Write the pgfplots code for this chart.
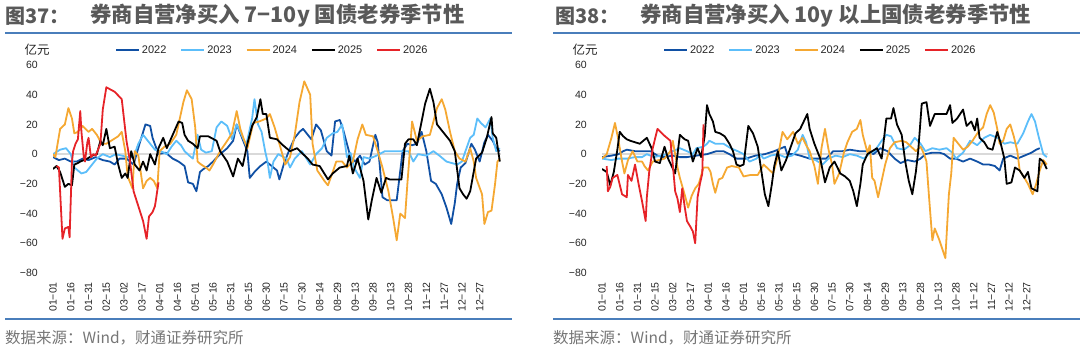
\documentclass[border=0pt]{standalone}
\usepackage{fontspec}
\usepackage{pgfplots}
\pgfplotsset{compat=1.18}
\setmainfont{Liberation Sans}
\newfontfamily\cjk{Noto Sans CJK SC}
\definecolor{cA}{RGB}{16,80,164}
\definecolor{cB}{RGB}{92,190,250}
\definecolor{cC}{RGB}{245,168,50}
\definecolor{cD}{RGB}{0,0,0}
\definecolor{cE}{RGB}{230,35,40}
\definecolor{zerogray}{RGB}{217,217,217}
\definecolor{rule}{RGB}{74,126,187}
\definecolor{ttl}{RGB}{89,89,89}
\definecolor{src}{RGB}{118,118,118}
\pgfplotsset{
  panel/.style={
    scale only axis, height=208pt,
    xmin=0, xmax=378, ymin=-80, ymax=60,
    axis line style={draw=none}, tick style={draw=none}, major tick length=0pt,
    xtick={0,15,...,360},
    xticklabels={01−01,01−16,01−31,02−15,03−02,03−17,04−01,04−16,05−01,05−16,05−31,06−15,06−30,07−15,07−30,08−14,08−29,09−13,09−28,10−13,10−28,11−12,11−27,12−12,12−27},
    ytick={-80,-60,-40,-20,0,20,40,60},
    yticklabels={−80,−60,−40,−20,0,20,40,60},
    tick label style={font=\fontsize{10.5}{10.5}\selectfont, color=black!85, inner sep=0pt},
    xticklabel style={yshift=-9pt, rotate=90, anchor=east},
    yticklabel style={xshift=-15pt, anchor=east},
    legend columns=5,
    legend style={at={(0,1)}, anchor=west, yshift=15pt, draw=none, fill=none, inner sep=0pt,
      font=\fontsize{11}{11}\selectfont, text=black!85,
      /tikz/every even column/.append style={column sep=12pt}},
    legend image code/.code={\draw[#1] (0pt,0pt) -- (23pt,0pt);},
    every axis plot/.append style={line width=1.8pt, line join=round},
  }
}
\begin{document}
\begin{tikzpicture}[x=1pt,y=1pt]
\useasboundingbox (0,0) rectangle (1080,-354);
% ---------- left panel ----------
\node[anchor=west, text=ttl, font=\cjk\bfseries\fontsize{20}{20}\selectfont, inner sep=0pt] at (5,-16) {图37：};
\node[anchor=west, text=ttl, font=\cjk\bfseries\fontsize{21.4}{21.4}\selectfont, inner sep=0pt] at (90,-16) {券商自营净买入 7−10y 国债老券季节性};
\draw[rule, line width=1.5pt] (5,-33) -- (512,-33);
\draw[rule, line width=1.5pt] (5,-319) -- (512,-319);
\node[anchor=west, text=src, font=\cjk\fontsize{15.5}{15.5}\selectfont, inner sep=0pt] at (5,-338) {数据来源：Wind，财通证券研究所};
\node[font=\cjk\fontsize{12.5}{12.5}\selectfont, text=black!85, inner sep=0pt] at (37,-50) {亿元};
\begin{axis}[panel, width=448pt, at={(53pt,-273pt)}, anchor=south west, legend style={xshift=62pt}]
\draw[zerogray, line width=2pt] (axis cs:0,0) -- (axis cs:378,0);
\addplot[cA] coordinates {(0,-2) (5,-4) (10,-3) (15,-5) (20,-5) (25,-3) (30,-4) (36,-2) (42,-4) (48,-5) (52,-7) (56,-3) (62,-3) (68,-7) (73,7) (78,20) (82,19) (84,11) (89,0) (95,1) (101,-3) (106,-5) (111,-8) (114,-19) (118,-20) (121,-25) (124,-12) (127,-10) (131,-8) (135,-5) (141,0) (147,4) (152,9) (155,20) (159,12) (164,2) (166,-16) (170,-12) (175,-8) (180,-5) (183,-7) (189,-11) (191,-17) (195,-6) (200,4) (204,11) (208,15) (211,17) (215,13) (218,10) (222,20) (226,16) (231,2) (235,-1) (238,22) (242,23) (245,16) (248,7) (251,-2) (255,-5) (259,-1) (263,-7) (267,-5) (272,13) (274,8) (278,-29) (282,-31) (290,-31) (295,2) (299,7) (303,6) (307,7) (311,15) (315,2) (319,-18) (323,-20) (328,-27) (332,-36) (336,-47) (339,-33) (341,-20) (344,-9) (348,-6) (353,7) (356,3) (360,-5) (364,8) (367,13) (371,9) (374,4) (377,2)};
\addplot[cB] coordinates {(0,0) (6,3) (11,4) (15,0) (18,-9) (24,-13) (28,-12) (33,-7) (37,-3) (42,0) (48,-2) (53,0) (58,-1) (63,-2) (68,-2) (72,7) (76,13) (80,9) (86,3) (91,2) (96,0) (100,5) (104,9) (108,6) (111,2) (115,-1) (118,-3) (122,13) (125,3) (129,1) (134,2) (138,18) (142,22) (147,19) (151,10) (155,20) (158,15) (163,6) (168,24) (170,37) (173,20) (176,15) (179,2) (181,-5) (183,-16) (186,-5) (190,0) (197,-3) (200,-9) (204,-3) (210,2) (217,-7) (222,0) (227,4) (231,11) (236,14) (240,15) (244,20) (248,-2) (251,1) (254,-9) (259,-16) (262,-2) (267,-3) (273,-1) (280,2) (290,2) (300,2) (304,-5) (308,0) (315,-1) (321,2) (326,-1) (332,-5) (341,-7) (345,-5) (348,2) (352,11) (355,13) (358,24) (361,21) (365,18) (369,24) (371,11) (374,2) (377,4)};
\addplot[cC] coordinates {(0,0) (2,-2) (6,17) (10,20) (13,31) (16,24) (18,14) (21,15) (25,19) (30,15) (33,17) (37,13) (41,7) (45,7) (51,10) (55,12) (58,15) (61,2) (63,-15) (67,-23) (69,2) (72,-1) (76,-23) (79,-18) (82,-16) (85,-18) (88,-23) (90,2) (94,5) (99,7) (104,13) (107,24) (110,35) (113,43) (117,37) (120,18) (122,-5) (125,-7) (129,-9) (132,-11) (135,-7) (141,2) (147,9) (151,14) (155,29) (158,17) (161,10) (164,4) (169,21) (174,22) (180,24) (183,27) (187,18) (191,7) (196,-7) (200,-2) (204,13) (208,35) (212,49) (217,40) (219,7) (223,-11) (229,-18) (232,-21) (236,-12) (239,-5) (244,-5) (248,-9) (253,-5) (257,10) (261,20) (264,13) (270,12) (274,2) (278,-9) (283,-25) (287,-43) (290,-58) (293,-40) (297,-43) (299,-20) (303,22) (307,9) (312,12) (318,13) (321,22) (324,31) (328,37) (331,30) (335,15) (339,2) (343,-3) (348,-5) (352,4) (355,-5) (357,-16) (362,-27) (364,-47) (367,-39) (370,-38) (373,-20) (375,-5) (377,-3)};
\addplot[cD] coordinates {(0,-10) (3,-8) (6,-12) (8,-17) (10,-22) (13,-20) (16,-21) (18,-7) (21,-6) (23,-5) (29,-3) (33,-1) (37,0) (40,9) (42,6) (45,17) (48,4) (52,5) (55,-7) (58,-16) (61,-13) (63,-16) (66,2) (69,-7) (73,-11) (76,-5) (79,-11) (82,0) (86,-7) (89,4) (93,11) (96,4) (101,13) (106,22) (109,21) (111,13) (114,9) (118,7) (122,4) (124,12) (131,12) (138,9) (141,2) (147,-5) (152,-15) (156,-3) (160,-8) (164,7) (168,19) (172,25) (175,37) (177,27) (180,27) (183,11) (189,10) (194,6) (200,2) (206,4) (211,0) (215,-3) (219,-7) (225,-8) (232,-17) (236,-13) (242,-9) (248,-8) (250,-1) (253,-13) (257,-3) (262,-18) (266,-44) (269,-31) (273,-16) (277,-26) (281,-16) (284,-17) (294,-17) (297,7) (300,10) (304,10) (307,6) (311,22) (314,34) (318,44) (321,35) (324,20) (329,15) (335,9) (339,2) (343,-23) (346,-27) (349,-30) (352,-25) (357,-3) (362,1) (366,11) (370,25) (371,14) (374,11) (377,-5)};
\addplot[cE] coordinates {(3,-8) (5,-9) (8,-57) (10,-50) (13,-49) (14,-56) (16,-5) (17,2) (19,7) (21,10) (23,29) (24,15) (26,-2) (27,-5) (29,8) (30,11) (32,-2) (34,0) (36,-1) (38,3) (40,7) (42,30) (45,45) (52,42) (58,37) (62,9) (65,-5) (68,-25) (72,-35) (76,-45) (79,-57) (81,-42) (84,-39) (86,-35) (87,-30) (89,-19)};
\legend{2022,2023,2024,2025,2026}
\end{axis}
% ---------- right panel ----------
\node[anchor=west, text=ttl, font=\cjk\bfseries\fontsize{20}{20}\selectfont, inner sep=0pt] at (555,-16) {图38：};
\node[anchor=west, text=ttl, font=\cjk\bfseries\fontsize{21.4}{21.4}\selectfont, inner sep=0pt] at (640,-16) {券商自营净买入 10y 以上国债老券季节性};
\draw[rule, line width=1.5pt] (553,-33) -- (1080,-33);
\draw[rule, line width=1.5pt] (553,-319) -- (1080,-319);
\node[anchor=west, text=src, font=\cjk\fontsize{15.5}{15.5}\selectfont, inner sep=0pt] at (553,-338) {数据来源：Wind，财通证券研究所};
\node[font=\cjk\fontsize{12.5}{12.5}\selectfont, text=black!85, inner sep=0pt] at (585,-50) {亿元};
\begin{axis}[panel, width=446pt, at={(602pt,-273pt)}, anchor=south west, legend style={xshift=61pt}]
\draw[zerogray, line width=2pt] (axis cs:0,0) -- (axis cs:378,0);
\addplot[cA] coordinates {(0,-2) (8,-1) (14,0) (18,2) (21,3) (28,2) (34,2) (41,2) (47,-1) (52,-2) (60,-1) (66,-2) (72,-2) (80,-1) (89,0) (97,2) (103,2) (108,0) (114,-3) (122,-3) (130,-1) (138,0) (146,2) (155,5) (157,0) (163,0) (168,-1) (176,-3) (182,-3) (190,-3) (196,2) (204,2) (210,3) (218,2) (225,2) (230,0) (236,4) (242,2) (248,-3) (253,-6) (259,-4) (265,-5) (270,-3) (274,0) (280,1) (286,1) (290,0) (295,-3) (300,-3) (306,-5) (312,-3) (318,-5) (323,-7) (328,-7) (333,-8) (337,-11) (340,-3) (346,-1) (352,-3) (358,-1) (364,1) (368,3) (371,4)};
\addplot[cB] coordinates {(0,-3) (8,-4) (14,-3) (21,-3) (28,-2) (34,-2) (38,0) (44,-2) (50,-1) (55,0) (60,2) (66,4) (72,2) (77,0) (80,4) (86,5) (89,7) (91,9) (96,7) (103,7) (109,4) (115,2) (120,0) (125,-5) (131,-3) (134,0) (137,-3) (143,-1) (149,0) (155,-2) (161,-1) (166,3) (170,13) (173,8) (176,-3) (181,-4) (187,-7) (192,-3) (198,-1) (204,-2) (210,0) (216,-1) (222,-3) (226,0) (231,2) (237,9) (241,13) (245,12) (250,4) (256,3) (261,6) (265,11) (270,7) (274,2) (280,4) (286,3) (292,4) (297,1) (300,-3) (306,1) (312,9) (318,6) (324,11) (329,13) (335,11) (341,7) (346,8) (352,7) (357,14) (361,22) (364,27) (367,22) (370,12) (374,0) (377,-2)};
\addplot[cC] coordinates {(0,-3) (4,0) (8,11) (11,21) (14,9) (17,-5) (19,-13) (22,-4) (26,2) (30,-5) (34,-5) (36,-8) (39,-11) (43,-5) (48,-4) (53,-3) (58,2) (60,9) (64,-9) (66,-16) (70,-27) (73,-36) (76,-28) (79,-23) (82,-20) (86,-9) (90,-9) (92,-12) (94,-20) (96,-26) (99,-17) (102,-16) (106,-9) (110,-8) (116,-9) (120,-15) (126,-14) (132,-14) (137,-7) (141,-10) (145,-13) (149,-2) (153,15) (157,10) (162,15) (166,7) (170,11) (173,6) (176,2) (180,-8) (183,-20) (186,4) (189,17) (192,3) (195,-7) (197,-20) (201,-13) (205,1) (208,8) (212,15) (216,17) (219,23) (221,13) (225,1) (227,6) (229,-16) (231,-18) (234,-29) (237,-18) (240,-7) (244,4) (248,8) (254,9) (258,8) (262,5) (266,2) (270,5) (273,0) (275,-5) (277,-27) (280,-58) (282,-50) (286,-58) (291,-70) (294,-27) (296,-13) (298,11) (302,7) (306,3) (310,5) (314,9) (319,15) (323,18) (326,27) (329,33) (332,28) (335,17) (337,7) (340,9) (343,17) (346,20) (349,12) (352,2) (354,-11) (358,-16) (361,-20) (365,-27) (368,-20) (371,-11) (374,-4) (377,-7)};
\addplot[cD] coordinates {(0,-10) (4,-12) (7,-21) (10,-12) (13,3) (15,15) (18,12) (21,10) (24,9) (28,8) (32,7) (35,9) (38,11) (42,4) (45,-5) (49,-6) (53,5) (56,-3) (59,-8) (62,-13) (66,13) (70,10) (73,9) (77,-5) (81,4) (84,-2) (87,12) (89,33) (91,27) (94,22) (96,15) (100,14) (104,12) (108,7) (111,2) (114,-7) (117,-8) (120,-7) (124,19) (128,14) (132,5) (135,-11) (138,-27) (141,-35) (144,-20) (146,-8) (149,2) (152,-11) (156,-4) (160,5) (164,14) (168,17) (171,22) (174,27) (176,17) (180,7) (185,-3) (189,-19) (193,-9) (197,-5) (202,-13) (206,-15) (210,-18) (213,-25) (216,-35) (219,-20) (221,-7) (225,0) (229,2) (233,4) (237,-3) (241,24) (245,24) (247,31) (250,20) (254,13) (257,-5) (260,-18) (263,-27) (266,-12) (268,2) (271,34) (275,35) (278,19) (282,27) (287,27) (292,27) (295,33) (297,21) (301,24) (306,30) (309,19) (313,22) (316,16) (318,24) (320,11) (324,8) (327,4) (331,3) (335,15) (338,7) (341,-3) (343,-20) (347,-19) (350,-9) (354,-11) (358,-16) (361,-12) (364,-23) (369,-25) (371,-3) (374,-5) (377,-10)};
\addplot[cE] coordinates {(4,-8) (5,-25) (7,-22) (9,-16) (13,-14) (17,-27) (21,-29) (22,-14) (25,-18) (28,-7) (31,-20) (34,-32) (37,-45) (38,-29) (40,-12) (43,4) (47,17) (52,13) (58,9) (60,-7) (62,-25) (64,-30) (66,-39) (68,-23) (70,-35) (72,-45) (75,-49) (77,-52) (79,-60) (81,-29) (83,-20) (85,-13) (86,20)};
\legend{2022,2023,2024,2025,2026}
\end{axis}
\end{tikzpicture}
\end{document}
